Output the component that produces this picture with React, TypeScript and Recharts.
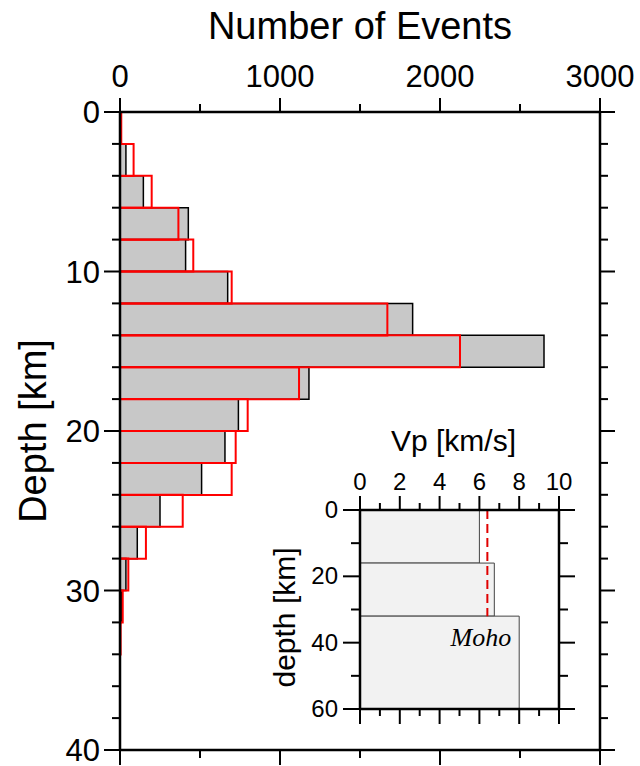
import { ComposedChart, Bar, Line, XAxis, YAxis, ReferenceArea } from 'recharts';

// main histogram: 2 km depth bins, 0-40 km
const depthBins = ['0-2', '2-4', '4-6', '6-8', '8-10', '10-12', '12-14', '14-16', '16-18', '18-20',
  '20-22', '22-24', '24-26', '26-28', '28-30', '30-32', '32-34', '34-36', '36-38', '38-40'];
const binTop = [0, 2, 4, 6, 8, 10, 12, 14, 16, 18, 20, 22, 24, 26, 28, 30, 32, 34, 36, 38];
const eventsAll = [3, 37, 146, 427, 410, 673, 1829, 2650, 1181, 740, 656, 510, 250, 108, 37, 8, 0, 0, 0, 0];
const eventsReloc = [8, 85, 198, 365, 458, 698, 1671, 2125, 1119, 798, 723, 698, 392, 162, 52, 17, 4, 0, 0, 0];
const countTicks = [0, 500, 1000, 1500, 2000, 2500, 3000];
const depthTicks = [0, 2, 4, 6, 8, 10, 12, 14, 16, 18, 20, 22, 24, 26, 28, 30, 32, 34, 36, 38, 40];

// inset velocity model
const vpTicks = [0, 1, 2, 3, 4, 5, 6, 7, 8, 9, 10];
const modelDepthTicks = [0, 10, 20, 30, 40, 50, 60];
const layerTop = [0, 16, 32];
const layerBottom = [16, 32, 60];
const layerVp = [6.0, 6.75, 8.0];
const meanDepth = [0, 32];
const meanVp = [6.4, 6.4];

const histData = depthBins.map((bin, i) => ({ bin, depth: binTop[i], all: eventsAll[i], reloc: eventsReloc[i] }));
const meanData = meanDepth.map((depth, i) => ({ depth, vp: meanVp[i] }));

const FONT = '"Liberation Sans", Arial, Helvetica, sans-serif';

// main plot box
const PL = 120, PR = 600, PT = 112, PB = 750;
// inset plot box (local coords)
const IL = 100, IR = 299, IT = 90, IB = 289;

const tickLine = (x1: number, y1: number, x2: number, y2: number) => (
  <line x1={x1} y1={y1} x2={x2} y2={y2} stroke="#000" strokeWidth={2} />
);

const TopCountTick = ({ x, payload }: any) => {
  const major = payload.value % 1000 === 0;
  return (
    <g>
      {tickLine(x, PT, x, PT - (major ? 14 : 8))}
      {major && (
        <text x={x} y={87} textAnchor="middle" fontSize={31} fontFamily={FONT} fill="#000">{payload.value}</text>
      )}
    </g>
  );
};
const BottomCountTick = ({ x, payload }: any) => {
  const major = payload.value % 1000 === 0;
  return tickLine(x, PB, x, PB + (major ? 15 : 8));
};
const LeftDepthTick = ({ y, payload }: any) => {
  const major = payload.value % 10 === 0;
  return (
    <g>
      {tickLine(PL, y, PL - (major ? 16 : 8), y)}
      {major && (
        <text x={100} y={y + 11} textAnchor="end" fontSize={31} fontFamily={FONT} fill="#000">{payload.value}</text>
      )}
    </g>
  );
};
const RightDepthTick = ({ y, payload }: any) => {
  const major = payload.value % 10 === 0;
  return tickLine(PR, y, PR + (major ? 15 : 8), y);
};

const InsetTopTick = ({ x, payload }: any) => {
  const major = payload.value % 2 === 0;
  return (
    <g>
      {tickLine(x, IT, x, IT - (major ? 14 : 7))}
      {major && (
        <text x={x} y={70} textAnchor="middle" fontSize={24} fontFamily={FONT} fill="#000">{payload.value}</text>
      )}
    </g>
  );
};
const InsetBottomTick = ({ x, payload }: any) => {
  const major = payload.value % 2 === 0;
  return tickLine(x, IB, x, IB + (major ? 15 : 7));
};
const InsetLeftTick = ({ y, payload }: any) => {
  const major = payload.value % 20 === 0;
  return (
    <g>
      {tickLine(IL, y, IL - (major ? 17 : 9), y)}
      {major && (
        <text x={78} y={y + 8} textAnchor="end" fontSize={24} fontFamily={FONT} fill="#000">{payload.value}</text>
      )}
    </g>
  );
};
const InsetRightTick = ({ y, payload }: any) => {
  const major = payload.value % 20 === 0;
  return tickLine(IR, y, IR + (major ? 16 : 9), y);
};

const axisLine = { stroke: '#000', strokeWidth: 2.5 };

export default function App() {
  return (
    <div style={{ position: 'relative', width: 640, height: 766, background: '#fff' }}>
      <style>{'body{margin:0}'}</style>
      <ComposedChart
        width={640}
        height={766}
        layout="vertical"
        data={histData}
        margin={{ top: 0, right: 0, bottom: 0, left: 0 }}
        barCategoryGap={0}
        barGap={0}
      >
        <XAxis
          type="number"
          orientation="top"
          domain={[0, 3000]}
          allowDataOverflow
          ticks={countTicks}
          interval={0}
          height={PT}
          axisLine={axisLine}
          tickLine={false}
          tick={TopCountTick}
          label={{
            content: () => (
              <text x={(PL + PR) / 2} y={39} textAnchor="middle" fontSize={38} fontFamily={FONT} fill="#000">
                Number of Events
              </text>
            ),
          }}
        />
        <XAxis
          xAxisId="bottom"
          type="number"
          orientation="bottom"
          domain={[0, 3000]}
          allowDataOverflow
          ticks={countTicks}
          interval={0}
          height={766 - PB}
          axisLine={axisLine}
          tickLine={false}
          tick={BottomCountTick}
        />
        <YAxis
          yAxisId="depth"
          type="number"
          dataKey="depth"
          orientation="left"
          domain={[0, 40]}
          allowDataOverflow
          ticks={depthTicks}
          interval={0}
          width={PL}
          axisLine={axisLine}
          tickLine={false}
          tick={LeftDepthTick}
          label={{
            content: () => (
              <text
                x={33}
                y={(PT + PB) / 2}
                transform={`rotate(-90, 33, ${(PT + PB) / 2})`}
                textAnchor="middle"
                dominantBaseline="central"
                fontSize={38}
                fontFamily={FONT}
                fill="#000"
              >
                Depth [km]
              </text>
            ),
          }}
        />
        <YAxis
          yAxisId="depthR"
          type="number"
          dataKey="depth"
          orientation="right"
          domain={[0, 40]}
          allowDataOverflow
          ticks={depthTicks}
          interval={0}
          width={640 - PR}
          axisLine={axisLine}
          tickLine={false}
          tick={RightDepthTick}
        />
        <YAxis yAxisId="binsAll" type="category" dataKey="bin" hide width={0} />
        <YAxis yAxisId="binsReloc" type="category" dataKey="bin" hide width={0} />
        <Bar yAxisId="binsAll" dataKey="all" fill="#c8c8c8" stroke="#000" strokeWidth={1.5} isAnimationActive={false} />
        <Bar yAxisId="binsReloc" dataKey="reloc" fill="none" stroke="#ff0000" strokeWidth={2} isAnimationActive={false} />
      </ComposedChart>

      <div style={{ position: 'absolute', left: 260, top: 420 }}>
        <ComposedChart
          width={340}
          height={330}
          layout="vertical"
          data={meanData}
          margin={{ top: 0, right: 0, bottom: 0, left: 0 }}
        >
          <XAxis
            type="number"
            orientation="top"
            domain={[0, 10]}
            allowDataOverflow
            ticks={vpTicks}
            interval={0}
            height={IT}
            axisLine={axisLine}
            tickLine={false}
            tick={InsetTopTick}
            label={{
              content: () => (
                <text x={(IL + IR) / 2 - 6} y={31} textAnchor="middle" fontSize={30} fontFamily={FONT} fill="#000">
                  Vp [km/s]
                </text>
              ),
            }}
          />
          <XAxis
            xAxisId="bottom"
            type="number"
            orientation="bottom"
            domain={[0, 10]}
            allowDataOverflow
            ticks={vpTicks}
            interval={0}
            height={330 - IB}
            axisLine={axisLine}
            tickLine={false}
            tick={InsetBottomTick}
          />
          <YAxis
            type="number"
            dataKey="depth"
            orientation="left"
            domain={[0, 60]}
            allowDataOverflow
            ticks={modelDepthTicks}
            interval={0}
            width={IL}
            axisLine={axisLine}
            tickLine={false}
            tick={InsetLeftTick}
            label={{
              content: () => (
                <text
                  x={24}
                  y={(IT + IB) / 2 + 8}
                  transform={`rotate(-90, 24, ${(IT + IB) / 2 + 8})`}
                  textAnchor="middle"
                  dominantBaseline="central"
                  fontSize={30}
                  fontFamily={FONT}
                  fill="#000"
                >
                  depth [km]
                </text>
              ),
            }}
          />
          <YAxis
            yAxisId="right"
            type="number"
            dataKey="depth"
            orientation="right"
            domain={[0, 60]}
            allowDataOverflow
            ticks={modelDepthTicks}
            interval={0}
            width={340 - IR}
            axisLine={axisLine}
            tickLine={false}
            tick={InsetRightTick}
          />
          {layerVp.map((vp, i) => (
            <ReferenceArea
              key={i}
              x1={0}
              x2={vp}
              y1={layerTop[i]}
              y2={layerBottom[i]}
              fill="#f2f2f2"
              fillOpacity={1}
              stroke="#444"
              strokeWidth={1}
              label={
                i === 2
                  ? {
                      content: ({ viewBox }: any) => (
                        <text
                          x={viewBox.x + viewBox.width - 8}
                          y={viewBox.y + 30}
                          textAnchor="end"
                          fontSize={26}
                          fontStyle="italic"
                          fontFamily='"Liberation Serif", "Times New Roman", serif'
                          fill="#000"
                        >
                          Moho
                        </text>
                      ),
                    }
                  : undefined
              }
            />
          ))}
          <Line
            dataKey="vp"
            stroke="#e00000"
            strokeWidth={2}
            strokeDasharray="9 5"
            dot={false}
            isAnimationActive={false}
          />
        </ComposedChart>
      </div>
    </div>
  );
}
